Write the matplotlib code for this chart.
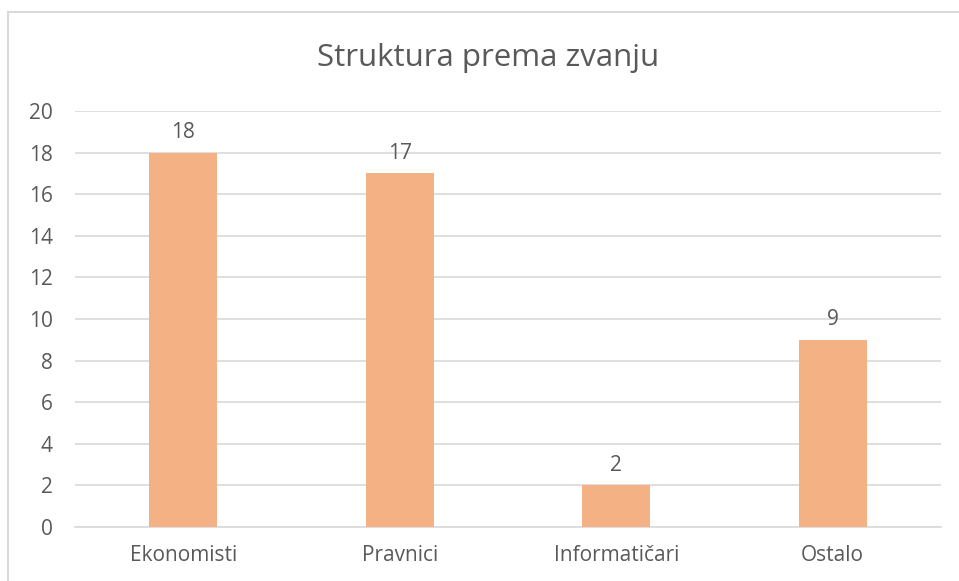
import matplotlib.pyplot as plt
from matplotlib.patches import Rectangle

categories = ["Ekonomisti", "Pravnici", "Informatičari", "Ostalo"]
values = [18, 17, 2, 9]
yticks = [0, 2, 4, 6, 8, 10, 12, 14, 16, 18, 20]

plt.rcParams['font.family'] = ['Open Sans', 'DejaVu Sans']
textColor = "#595959"

fig = plt.figure(figsize=(9.59, 5.81), dpi=100)
fig.patches.append(Rectangle((0.008, -0.05), 1.2, 1.05 - 12/581, transform=fig.transFigure,
                             fill=False, edgecolor="#d9d9d9", linewidth=1.5))

ax = fig.add_axes([75/959, 1 - 527/581, 866/959, 416/581])
x = range(len(categories))
bars = ax.bar(x, values, width=0.315, color="#F4B183", zorder=3)
for b, v in zip(bars, values):
    ax.annotate(str(v), (b.get_x() + b.get_width()/2, v), xytext=(0, 7),
                textcoords="offset points", ha="center", va="bottom",
                fontsize=15, color=textColor)

ax.set_xlim(-0.5, len(categories) - 0.5)
ax.set_ylim(0, 20)
ax.set_yticks(yticks)
ax.set_xticks(list(x))
ax.set_xticklabels(categories)
ax.tick_params(axis="both", length=0, labelsize=15, labelcolor=textColor)
ax.tick_params(axis="y", pad=16)
ax.tick_params(axis="x", pad=13)
ax.grid(axis="y", color="#d9d9d9", linewidth=1.2, zorder=0)
for s in ["top", "right", "left"]:
    ax.spines[s].set_visible(False)
ax.spines["bottom"].set_color("#d9d9d9")
ax.spines["bottom"].set_linewidth(1.2)

fig.text(488/959, 1 - 58/581, "Struktura prema zvanju", ha="center", va="center",
         fontsize=22.5, color=textColor)

fig.savefig("out.png", dpi=100)
